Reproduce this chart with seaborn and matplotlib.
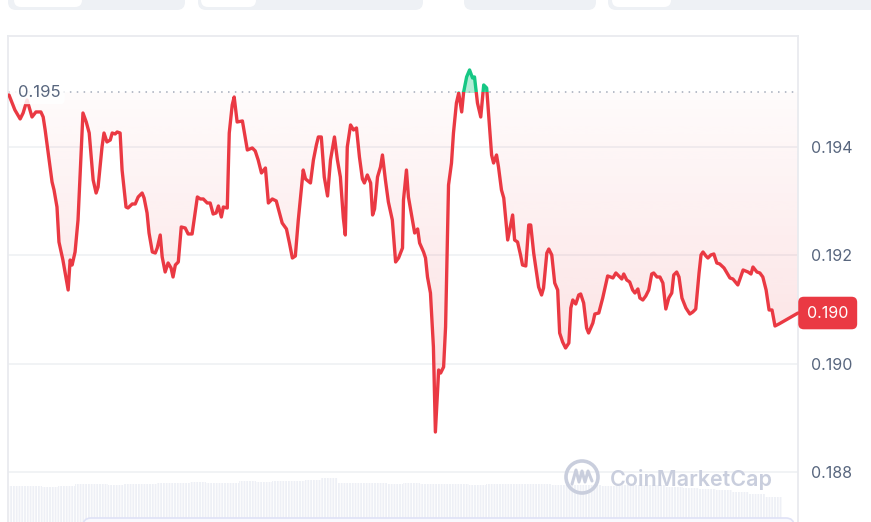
import numpy as np
import pandas as pd
import matplotlib
matplotlib.use("Agg")
import matplotlib.pyplot as plt
import matplotlib.transforms as mtransforms
from matplotlib.patches import Rectangle, FancyBboxPatch, Ellipse
import seaborn as sns

# 24h price (hours since start, USD)
hours = [0, 0.18, 0.34, 0.43, 0.55, 0.70, 0.82, 0.97, 1.04, 1.10, 1.19, 1.31, 1.37, 1.46, 1.52,
         1.64, 1.80, 1.86, 1.92, 2.01, 2.10, 2.25, 2.35, 2.44, 2.56, 2.65, 2.71, 2.83, 2.89, 2.98,
         3.08, 3.14, 3.23, 3.29, 3.38, 3.44, 3.56, 3.62, 3.75, 3.84, 3.93, 4.05, 4.11, 4.20, 4.26,
         4.36, 4.45, 4.51, 4.60, 4.66, 4.75, 4.84, 4.93, 4.99, 5.06, 5.15, 5.24, 5.36, 5.45, 5.57,
         5.73, 5.82, 5.91, 6.03, 6.12, 6.21, 6.30, 6.37, 6.46, 6.52, 6.64, 6.70, 6.79, 6.85, 6.94,
         7.10, 7.25, 7.40, 7.49, 7.58, 7.68, 7.80, 7.89, 8.01, 8.13, 8.31, 8.44, 8.53, 8.62, 8.71,
         8.80, 8.95, 9.02, 9.17, 9.26, 9.35, 9.41, 9.50, 9.59, 9.69, 9.78, 9.90, 9.99, 10.08, 10.17,
         10.23, 10.29, 10.39, 10.48, 10.57, 10.66, 10.75, 10.81, 10.90, 11.00, 11.06, 11.12, 11.21,
         11.30, 11.36, 11.45, 11.54, 11.66, 11.76, 11.85, 11.97, 12.00, 12.09, 12.15, 12.27, 12.34,
         12.43, 12.49, 12.61, 12.67, 12.73, 12.82, 12.91, 12.97, 13.07, 13.13, 13.22, 13.28, 13.37,
         13.46, 13.52, 13.61, 13.68, 13.77, 13.83, 13.92, 14.01, 14.10, 14.16, 14.25, 14.35, 14.44,
         14.53, 14.59, 14.68, 14.74, 14.83, 14.89, 14.98, 15.05, 15.17, 15.23, 15.32, 15.38, 15.47,
         15.56, 15.62, 15.72, 15.81, 15.87, 15.96, 16.11, 16.20, 16.26, 16.36, 16.42, 16.51, 16.60,
         16.69, 16.75, 16.84, 16.93, 17.03, 17.09, 17.15, 17.24, 17.33, 17.39, 17.48, 17.57, 17.63,
         17.76, 17.82, 17.94, 18.06, 18.21, 18.30, 18.37, 18.46, 18.55, 18.64, 18.70, 18.79, 18.88,
         18.97, 19.04, 19.13, 19.19, 19.28, 19.37, 19.46, 19.55, 19.61, 19.71, 19.80, 19.89, 19.98,
         20.07, 20.16, 20.22, 20.31, 20.38, 20.47, 20.59, 20.71, 20.80, 20.89, 20.99, 21.05, 21.11,
         21.20, 21.26, 21.35, 21.44, 21.53, 21.62, 21.75, 21.84, 21.93, 22.02, 22.17, 22.33, 22.48,
         22.57, 22.63, 22.75, 22.84, 22.93, 23.03, 23.12, 23.21, 23.30, 23.42, 24.0]
price = [0.194954, 0.194677, 0.194512, 0.194622, 0.194862, 0.194548, 0.194641, 0.194641, 0.194548,
         0.194309, 0.193903, 0.193350, 0.193203, 0.192889, 0.192244, 0.191912, 0.191359, 0.191912,
         0.191820, 0.192060, 0.192650, 0.194622, 0.194456, 0.194253, 0.193387, 0.193147, 0.193258,
         0.193995, 0.194253, 0.194088, 0.194124, 0.194253, 0.194235, 0.194272, 0.194253, 0.193571,
         0.192889, 0.192871, 0.192945, 0.192945, 0.193074, 0.193147, 0.193055, 0.192779, 0.192410,
         0.192060, 0.192041, 0.192134, 0.192373, 0.191968, 0.191691, 0.191857, 0.191765, 0.191599,
         0.191820, 0.191876, 0.192521, 0.192502, 0.192392, 0.192392, 0.193074, 0.193037, 0.193037,
         0.192963, 0.192963, 0.192760, 0.192779, 0.192908, 0.192705, 0.192889, 0.192871, 0.194253,
         0.194770, 0.194917, 0.194456, 0.194475, 0.193940, 0.193977, 0.193922, 0.193756, 0.193516,
         0.193608, 0.192963, 0.193037, 0.193000, 0.192594, 0.192484, 0.192226, 0.191949, 0.191986,
         0.192650, 0.193571, 0.193406, 0.193332, 0.193756, 0.194032, 0.194180, 0.194180, 0.193442,
         0.193092, 0.193756, 0.194180, 0.193756, 0.193442, 0.192687, 0.192373, 0.193995, 0.194401,
         0.194309, 0.194346, 0.193811, 0.193406, 0.193332, 0.193479, 0.193332, 0.192742, 0.192853,
         0.193442, 0.193627, 0.193848, 0.193387, 0.192982, 0.192650, 0.191876, 0.191949, 0.192134,
         0.193018, 0.193571, 0.193074, 0.192650, 0.192410, 0.192484, 0.192226, 0.192060, 0.191949,
         0.191599, 0.191304, 0.190309, 0.188742, 0.189885, 0.189829, 0.189940, 0.190677, 0.193295,
         0.193700, 0.194253, 0.194806, 0.194991, 0.194641, 0.195009, 0.195286, 0.195415, 0.195267,
         0.195286, 0.194806, 0.194548, 0.195138, 0.195083, 0.194585, 0.193848, 0.193700, 0.193848,
         0.193627, 0.193203, 0.193055, 0.192281, 0.192465, 0.192742, 0.192281, 0.192244, 0.192005,
         0.191820, 0.191802, 0.192558, 0.192558, 0.192041, 0.191415, 0.191267, 0.191396, 0.192041,
         0.192115, 0.192005, 0.191488, 0.191359, 0.190567, 0.190401, 0.190290, 0.190382, 0.191028,
         0.191175, 0.191101, 0.191267, 0.191286, 0.191120, 0.190659, 0.190567, 0.190751, 0.190917,
         0.190935, 0.191212, 0.191618, 0.191599, 0.191581, 0.191673, 0.191618, 0.191562, 0.191654,
         0.191544, 0.191507, 0.191359, 0.191304, 0.191378, 0.191212, 0.191175, 0.191249, 0.191359,
         0.191654, 0.191673, 0.191599, 0.191599, 0.191488, 0.191009, 0.191212, 0.191304, 0.191636,
         0.191691, 0.191599, 0.191212, 0.191028, 0.190917, 0.190954, 0.191009, 0.191673, 0.192005,
         0.192060, 0.191986, 0.191949, 0.192005, 0.192023, 0.191857, 0.191839, 0.191765, 0.191673,
         0.191581, 0.191562, 0.191452, 0.191728, 0.191691, 0.191654, 0.191783, 0.191691, 0.191673,
         0.191599, 0.191359, 0.190991, 0.190991, 0.190696, 0.190733, 0.190935]

# half-hour volume (relative units)
volume = [3.6, 3.6, 3.5, 3.6, 3.8, 3.8, 3.7, 3.8, 3.8, 3.9, 3.9, 4.0, 3.9, 3.9, 4.1, 4.0,
          4.1, 4.1, 4.2, 4.4, 3.9, 3.9, 3.9, 3.8, 3.9, 3.8, 3.8, 3.8, 3.7, 3.8, 3.8, 3.8,
          3.8, 3.7, 3.7, 3.7, 3.6, 3.7, 3.7, 3.7, 3.5, 3.4, 3.3, 3.2, 3.0, 2.8, 2.5]

open_price = 0.195
open_label = "0.195"
tick_vals = [0.194, 0.192, 0.190, 0.188]
tick_labels = ["0.194", "0.192", "0.190", "0.188"]
last_label = "0.190"

RED = "#ea3943"
GREEN = "#16c784"
GREY_TXT = "#58667e"

sns.set_style("white")
plt.rcParams["font.family"] = ["Inter", "DejaVu Sans"]
plt.rcParams["hatch.linewidth"] = 0.7

W, H = 871, 522
fig = plt.figure(figsize=(W / 100, H / 100), dpi=100)

rect = [8 / W, 0, 790 / W, 486 / H]
xlim = (-0.03, 24.0)
ylim = (0.187083, 0.196041)

# volume behind everything, fine white stripes like the thin 5-min bars
vax = fig.add_axes(rect, zorder=0)
vol_x = np.arange(len(volume)) * 0.5 + 0.25
vax.bar(vol_x, volume, width=0.5, color="#eef0f6", edgecolor="white", linewidth=0, hatch="||||||")
vax.set_xlim(*xlim)
vax.set_ylim(0, 48.6)
vax.axis("off")

ax = fig.add_axes(rect, zorder=1)
ax.patch.set_alpha(0)
ax.set_xlim(*xlim)
ax.set_ylim(*ylim)

df = pd.DataFrame({"hour": hours, "price": price})
p = np.array(price)
h = np.array(hours)

# pink gradient between line and opening price
below = ax.fill_between(h, np.minimum(p, open_price), open_price, facecolor="none", edgecolor="none")
grad = np.zeros((256, 1, 4))
grad[:, 0, :3] = matplotlib.colors.to_rgb(RED)
grad[:, 0, 3] = np.linspace(0.22, 0.02, 256)
im = ax.imshow(grad, extent=[xlim[0], xlim[1], ylim[0], open_price], origin="lower",
               aspect="auto", interpolation="bicubic", zorder=1)
im.set_clip_path(below.get_paths()[0], transform=ax.transData)

ax.fill_between(h, open_price, np.maximum(p, open_price), color=GREEN, alpha=0.32, lw=0, zorder=1)

# line: red under the open price, green above
sns.lineplot(data=df, x="hour", y="price", ax=ax, color=RED, lw=2.4, estimator=None, sort=False, zorder=3)
sns.lineplot(data=df, x="hour", y="price", ax=ax, color=GREEN, lw=2.4, estimator=None, sort=False, zorder=3)
red_line, green_line = ax.lines[-2], ax.lines[-1]
red_line.set_clip_path(Rectangle((xlim[0], ylim[0]), 30, open_price - ylim[0], transform=ax.transData))
green_line.set_clip_path(Rectangle((xlim[0], open_price), 30, 1, transform=ax.transData))

ax.axhline(open_price, color="#a3abba", ls=(0, (1, 3.5)), lw=1.1, zorder=2)
ax.text(0.27, open_price, open_label, ha="left", va="center", fontsize=12, color=GREY_TXT, zorder=4,
        bbox=dict(boxstyle="round,pad=0.25", fc="white", ec="none", alpha=0.85))

ax.yaxis.tick_right()
ax.set_yticks(tick_vals)
ax.set_yticklabels(tick_labels)
ax.tick_params(axis="y", length=0, pad=9, labelsize=11.5, labelcolor=GREY_TXT)
ax.set_xticks([])
ax.grid(axis="y", color="#eff1f4", lw=1.2)
ax.set_axisbelow(True)
ax.set_xlabel("")
ax.set_ylabel("")
for side in ["top", "left", "right"]:
    ax.spines[side].set_color("#e9ebef")
    ax.spines[side].set_linewidth(1.3)
ax.spines["bottom"].set_visible(False)

# current price badge
blend = mtransforms.blended_transform_factory(ax.transAxes, ax.transData)
ax.annotate(last_label, xy=(1, price[-1]), xycoords=blend, xytext=(6.5, 0), textcoords="offset points",
            ha="left", va="center", fontsize=11.5, color="white", annotation_clip=False, zorder=6,
            bbox=dict(boxstyle="round,pad=0.55,rounding_size=0.35", fc=RED, ec="none"))

# page furniture in pixel coordinates
ov = fig.add_axes([0, 0, 1, 1], zorder=5)
ov.set_xlim(0, W)
ov.set_ylim(H, 0)
ov.axis("off")
ov.patch.set_alpha(0)
for x0, x1 in [(8, 185), (198, 423), (464, 596), (608, 890)]:
    ov.add_patch(FancyBboxPatch((x0, -20), x1 - x0, 30, boxstyle="round,pad=0,rounding_size=8",
                                fc="#eef1f5", ec="none"))
for x0, x1 in [(14, 82), (201, 256), (612, 671)]:
    ov.add_patch(FancyBboxPatch((x0, -20), x1 - x0, 27, boxstyle="round,pad=0,rounding_size=7",
                                fc="white", ec="none"))
ov.add_patch(FancyBboxPatch((83, 518), 711, 20, boxstyle="round,pad=0,rounding_size=8",
                            fc="#f9f9fe", ec="#dfe2f6", lw=1.2))

wm = "#c9cedd"
ov.add_patch(Ellipse((582, 477), 32, 32, fc="none", ec=wm, lw=2.6))
ov.plot([572, 576, 579, 582, 585, 588, 592], [484, 470, 482, 471, 482, 471, 481],
        color=wm, lw=2.2, solid_joinstyle="round", solid_capstyle="round")
ov.text(610, 479, "CoinMarketCap", ha="left", va="center", fontsize=15.5, fontweight="semibold", color=wm)

fig.savefig("out.png", dpi=100, facecolor="white")
